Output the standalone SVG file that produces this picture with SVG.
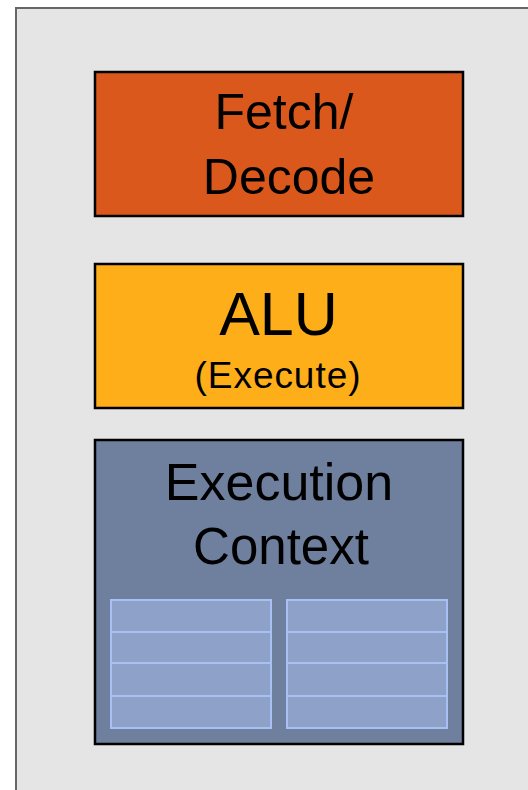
<svg xmlns="http://www.w3.org/2000/svg" width="528" height="790" viewBox="0 0 528 790">
<style>
.box{stroke:#000;stroke-width:2.5}
.t{font-family:"Liberation Sans",Arial,sans-serif;text-anchor:middle;fill:#000}
.reg{fill:#8ea2c9;stroke:#a9c0f5;stroke-width:2}
</style>
<rect x="16" y="8" width="530" height="800" fill="#e5e5e5" stroke="#666" stroke-width="2"/>
<g id="fetch">
<rect class="box" x="95" y="72" width="368" height="144" fill="#db581d"/>
<text class="t" x="284" y="129" font-size="50">Fetch/</text>
<text class="t" x="289" y="194" font-size="50">Decode</text>
</g>
<g id="alu">
<rect class="box" x="95" y="264" width="368" height="144" fill="#fdae19"/>
<text class="t" x="278.5" y="335" font-size="61">ALU</text>
<text class="t" x="277.5" y="388" font-size="37" textLength="166" lengthAdjust="spacing">(Execute)</text>
</g>
<g id="context">
<rect class="box" x="95" y="440" width="368" height="304" fill="#6f7f9e"/>
<text class="t" x="279" y="500" font-size="52">Execution</text>
<text class="t" x="281" y="564" font-size="51">Context</text>
<rect class="reg" x="111" y="600" width="160" height="32"/>
<rect class="reg" x="111" y="632" width="160" height="31"/>
<rect class="reg" x="111" y="663" width="160" height="33"/>
<rect class="reg" x="111" y="696" width="160" height="32"/>
<rect class="reg" x="287" y="600" width="160" height="32"/>
<rect class="reg" x="287" y="632" width="160" height="31"/>
<rect class="reg" x="287" y="663" width="160" height="33"/>
<rect class="reg" x="287" y="696" width="160" height="32"/>
</g>
<g id="connectors"/>
</svg>
